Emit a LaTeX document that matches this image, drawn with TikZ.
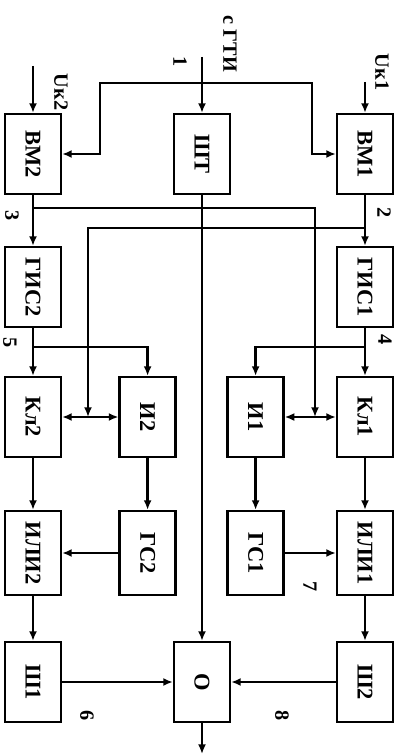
\documentclass[tikz,border=0pt]{standalone}
\usepackage{fontspec}
\setmainfont{Liberation Serif}
\usepackage{tikz}
\usetikzlibrary{arrows.meta, calc}
\newcommand{\vtext}[1]{\rotatebox{-90}{#1}}

\begin{document}
\begin{tikzpicture}[
    >={Latex[length=2.4mm,width=2mm]},
    line width=1.6pt,
    block/.style={rectangle, draw, line width=1.6pt, minimum width=1.4cm, minimum height=2cm, font=\fontsize{16}{18}\selectfont\bfseries, inner sep=0pt},
    tag/.style={font=\Large\bfseries, rotate=-90}
]
\useasboundingbox (0,0) rectangle (9.975,-18.85);

% Blocks
\node[block] (vm2) at (0.825,-3.85) {\vtext{ВМ2}};
\node[block] (sht) at (5.05,-3.85) {\vtext{ШТ}};
\node[block] (vm1) at (9.125,-3.85) {\vtext{ВМ1}};
\node[block] (gis2) at (0.825,-7.175) {\vtext{ГИС2}};
\node[block] (gis1) at (9.125,-7.175) {\vtext{ГИС1}};
\node[block] (kl2) at (0.825,-10.425) {\vtext{Кл2}};
\node[block] (i2) at (3.69,-10.425) {\vtext{И2}};
\node[block] (i1) at (6.39,-10.425) {\vtext{И1}};
\node[block] (kl1) at (9.125,-10.425) {\vtext{Кл1}};
\node[block, minimum height=2.1cm] (ili2) at (0.825,-13.825) {\vtext{ИЛИ2}};
\node[block, minimum height=2.1cm] (gs2) at (3.69,-13.825) {\vtext{ГС2}};
\node[block, minimum height=2.1cm] (gs1) at (6.39,-13.825) {\vtext{ГС1}};
\node[block, minimum height=2.1cm] (ili1) at (9.125,-13.825) {\vtext{ИЛИ1}};
\node[block] (sh1) at (0.825,-17.05) {\vtext{Ш1}};
\node[block] (o) at (5.05,-17.05) {\vtext{О}};
\node[block] (sh2) at (9.125,-17.05) {\vtext{Ш2}};

% Free ends and branch points
\coordinate (gti) at (5.05,-1.425);
\coordinate (split) at (5.05,-2.075);
\coordinate (sl) at (2.5,-2.075);
\coordinate (sr) at (7.8,-2.075);
\coordinate (uk2) at (0.825,-1.65);
\coordinate (uk1) at (9.125,-2.05);
\coordinate (b3) at (0.825,-5.2);
\coordinate (b2) at (9.125,-5.7);
\coordinate (b4) at (9.125,-8.675);
\coordinate (b5) at (0.825,-8.675);
\coordinate (j1) at (7.875,-10.425);
\coordinate (j2) at (2.2,-10.425);
\coordinate (out) at (5.05,-18.85);

% Inputs
\draw[->] (gti) -- (sht);
\draw[->] (split) -- (sl) |- (vm2);
\draw[->] (split) -- (sr) |- (vm1);
\draw[->] (uk2) -- (vm2);
\draw[->] (uk1) -- (vm1);

% Channels
\draw[->] (vm2) -- (gis2);
\draw[->] (vm1) -- (gis1);
\draw[->] (b3) -| (j1);
\draw[->] (b2) -| (j2);
\draw[->] (gis2) -- (kl2);
\draw[->] (gis1) -- (kl1);
\draw[->] (b5) -| (i2);
\draw[->] (b4) -| (i1);
\draw[<->] (kl2) -- (i2);
\draw[<->] (i1) -- (kl1);
\draw[->] (kl2) -- (ili2);
\draw[->] (i2) -- (gs2);
\draw[->] (i1) -- (gs1);
\draw[->] (kl1) -- (ili1);
\draw[->] (gs2) -- (ili2);
\draw[->] (gs1) -- (ili1);
\draw[->] (ili2) -- (sh1);
\draw[->] (ili1) -- (sh2);

% Output
\draw[->] (sht) -- (o);
\draw[->] (sh1) -- (o);
\draw[->] (sh2) -- (o);
\draw[->] (o) -- (out);

% Labels
\node[tag] (lgti) at (5.75,-1.1) {с ГТИ};
\node[tag] (l1) at (4.5,-1.55) {1};
\node[tag] (luk2) at (1.525,-2.3) {Uк2};
\node[tag] (luk1) at (9.55,-1.8) {Uк1};
\node[tag] (l2) at (9.6,-5.325) {2};
\node[tag] (l3) at (0.3,-5.4) {3};
\node[tag] (l4) at (9.625,-8.5) {4};
\node[tag] (l5) at (0.25,-8.575) {5};
\node[tag] (l6) at (2.175,-17.9) {6};
\node[tag] (l7) at (7.75,-14.675) {7};
\node[tag] (l8) at (7.05,-17.9) {8};
\end{tikzpicture}
\end{document}
